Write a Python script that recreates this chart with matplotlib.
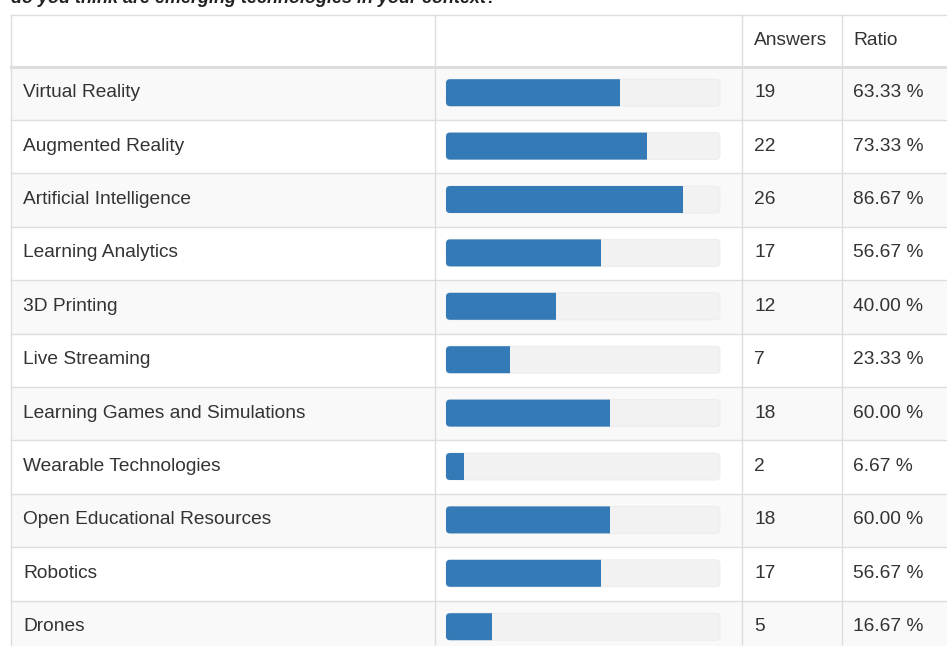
import matplotlib.pyplot as plt
from matplotlib.patches import FancyBboxPatch, Rectangle

plt.rcParams['font.family'] = ['Liberation Sans', 'DejaVu Sans']

technologies = ['Virtual Reality', 'Augmented Reality', 'Artificial Intelligence',
                'Learning Analytics', '3D Printing', 'Live Streaming',
                'Learning Games and Simulations', 'Wearable Technologies',
                'Open Educational Resources', 'Robotics', 'Drones']
answers = [19, 22, 26, 17, 12, 7, 18, 2, 18, 17, 5]
ratios = [63.33, 73.33, 86.67, 56.67, 40.00, 23.33, 60.00, 6.67, 60.00, 56.67, 16.67]
headers = ['Answers', 'Ratio']
title = 'do you think are emerging technologies in your context?'

W, H = 947, 646
fig = plt.figure(figsize=(W / 100, H / 100), dpi=100)
ax = fig.add_axes([0, 0, 1, 1])
ax.set_xlim(0, W)
ax.set_ylim(H, 0)
ax.axis('off')

line_col = '#dddddd'
text_col = '#333333'
bar_col = '#337ab7'
track_col = '#f2f2f2'
fs = 13.8

left, right = 11, 960
col_x = [435, 742, 842]
top = 15
head_bot = 66.5
row_h = 53.4

# title, clipped at the top edge like in the screenshot
ax.text(11, 3, title, fontsize=13, fontweight='bold', fontstyle='italic',
        color='#222222', va='baseline', ha='left')

# header
ax.text(754, (top + head_bot) / 2, headers[0], fontsize=fs, color=text_col, va='center')
ax.text(853, (top + head_bot) / 2, headers[1], fontsize=fs, color=text_col, va='center')

bar_x0, bar_x1 = 446, 720
bar_h = 27
for i, (name, n, r) in enumerate(zip(technologies, answers, ratios)):
    y0 = head_bot + i * row_h
    yc = y0 + row_h / 2 - 0.5
    if i % 2 == 0:
        ax.add_patch(Rectangle((left, y0), right - left, row_h, facecolor='#f9f9f9',
                               edgecolor='none', zorder=0))
    ax.plot([left, right], [y0, y0], color=line_col, lw=1, zorder=1)
    ax.text(23, yc, name, fontsize=fs, color=text_col, va='center')
    ax.text(754, yc, str(n), fontsize=fs, color=text_col, va='center')
    ax.text(853, yc, f'{r:.2f} %', fontsize=fs, color=text_col, va='center')
    # progress track
    ax.add_patch(FancyBboxPatch((bar_x0, yc - bar_h / 2), bar_x1 - bar_x0, bar_h,
                                boxstyle='round,pad=0,rounding_size=4',
                                facecolor=track_col, edgecolor='#ebebeb', lw=0.6, zorder=2))
    # filled part: rounded on the left, cut square on the right
    w = (bar_x1 - bar_x0) * r / 100
    fill = FancyBboxPatch((bar_x0, yc - bar_h / 2), w + 10, bar_h,
                          boxstyle='round,pad=0,rounding_size=4',
                          facecolor=bar_col, edgecolor='none', zorder=3)
    ax.add_patch(fill)
    clip = Rectangle((bar_x0 - 2, yc - bar_h / 2 - 2), w + 2, bar_h + 4,
                     transform=ax.transData, visible=False)
    ax.add_patch(clip)
    fill.set_clip_path(clip)

# header bottom border (thicker)
ax.plot([left, right], [head_bot, head_bot], color=line_col, lw=2.2, zorder=4)
# outer and column lines
ax.plot([left, right], [top, top], color=line_col, lw=1, zorder=4)
for x in [left] + col_x:
    ax.plot([x, x], [top, H + 5], color=line_col, lw=1, zorder=4)

fig.savefig('out.png', dpi=100)
